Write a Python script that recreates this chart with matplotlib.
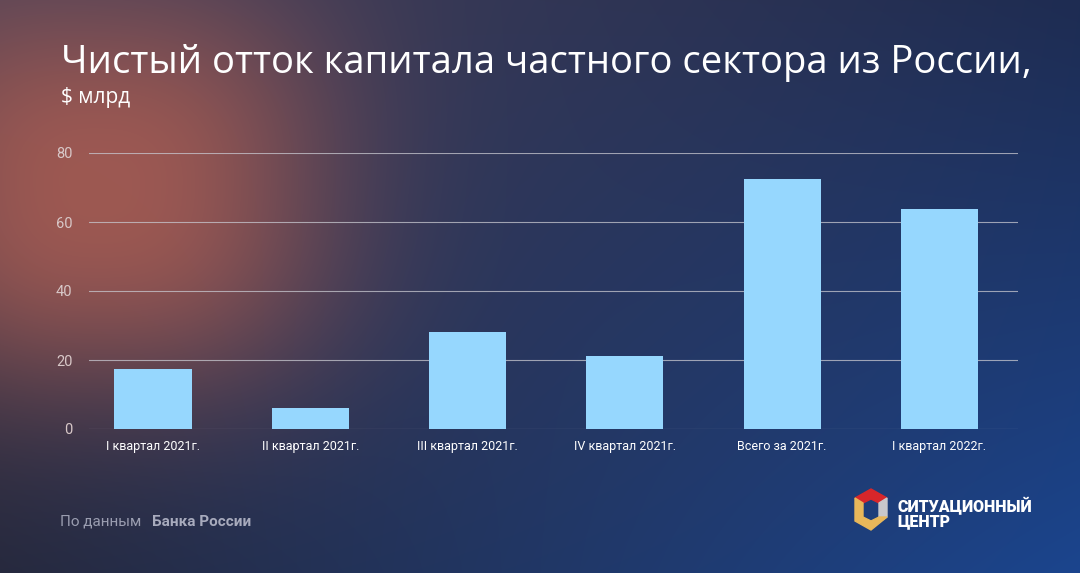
import numpy as np
import matplotlib
matplotlib.use("Agg")
import matplotlib.pyplot as plt
from matplotlib.patches import Polygon

categories = ["I квартал 2021г.", "II квартал 2021г.", "III квартал 2021г.",
              "IV квартал 2021г.", "Всего за 2021г.", "I квартал 2022г."]
values = [17.5, 6.2, 28.2, 21.2, 72.6, 63.9]
yticks = [0, 20, 40, 60, 80]

W, H = 1080, 573
fig = plt.figure(figsize=(W / 100, H / 100), dpi=100)

# background
bg = fig.add_axes([0, 0, 1, 1])
yy, xx = np.mgrid[0:H, 0:W].astype(float)
u = xx / W
v = yy / H
c_tl = np.array([0x45, 0x40, 0x58]) / 255
c_tr = np.array([0x1e, 0x2c, 0x52]) / 255
c_bl = np.array([0x26, 0x29, 0x3e]) / 255
c_br = np.array([0x1b, 0x45, 0x8e]) / 255
img = ((1 - u)[..., None] * (1 - v)[..., None] * c_tl + u[..., None] * (1 - v)[..., None] * c_tr
       + (1 - u)[..., None] * v[..., None] * c_bl + u[..., None] * v[..., None] * c_br)
glow = np.exp(-((np.abs(xx - 100) / 230) ** 2.5 + (np.abs(yy - 190) / 200) ** 2.5))
red = np.array([0xa8, 0x5c, 0x52]) / 255
img = img * (1 - glow[..., None] * 0.9) + red * glow[..., None] * 0.9
bg.imshow(np.clip(img, 0, 1), aspect="auto", extent=[0, W, H, 0])
bg.set_xlim(0, W)
bg.set_ylim(H, 0)
bg.axis("off")

# chart axes
left, right = 89, 1018
y0_px, y80_px = 429, 153
ax = fig.add_axes([left / W, 1 - y0_px / H, (right - left) / W, (y0_px - y80_px) / H])
ax.set_facecolor("none")
x = np.arange(len(categories))
ax.bar(x, values, width=0.49, color="#96d7fe", zorder=3)
ax.set_xlim(-0.407, 5.5)
ax.set_ylim(0, 80)
ax.set_yticks(yticks)
for t in yticks:
    ax.axhline(t, color="#c8c8d0", lw=0.8, alpha=0.75, zorder=1)
ax.set_xticks(x)
ax.set_xticklabels(categories, fontsize=9, color="white", family="Roboto")
ax.tick_params(axis="x", length=0, pad=8)
ax.tick_params(axis="y", length=0, pad=12, labelsize=10.5, labelcolor="#d8c8c8")
for lab in ax.get_yticklabels():
    lab.set_family("Roboto")
for s in ax.spines.values():
    s.set_visible(False)

# titles
fig.text(61 / W, 1 - 73 / H, "Чистый отток капитала частного сектора из России,",
         fontsize=27.5, color="white", family="Open Sans", ha="left", va="baseline")
fig.text(61 / W, 1 - 103 / H, "$ млрд", fontsize=15, color="white",
         family="Open Sans", ha="left", va="baseline")

# footer
fig.text(60 / W, 1 - 526 / H, "По данным", fontsize=11, color="#9a9db0",
         family="Roboto", ha="left", va="baseline")
fig.text(152 / W, 1 - 526 / H, "Банка России", fontsize=11, color="#a8abbd",
         family="Roboto", fontweight="bold", ha="left", va="baseline")

# logo
def P(pts, col):
    bg.add_patch(Polygon(pts, closed=True, color=col, zorder=5))
P([(855, 498), (871, 489), (887, 498), (879, 503), (871, 499), (863, 503)], "#d8262a")
P([(879, 503), (887, 498), (887, 517), (879, 522), (879, 512)], "#c8c8cc")
P([(855, 498), (863, 503), (863, 517), (871, 521), (879, 517), (887, 517), (871, 530), (855, 521)], "#e8b75a")
fig.text(897 / W, 1 - 511 / H, "СИТУАЦИОННЫЙ", fontsize=11.5, color="white",
         family="Roboto", fontweight="black", ha="left", va="baseline")
fig.text(897 / W, 1 - 526 / H, "ЦЕНТР", fontsize=11.5, color="white",
         family="Roboto", fontweight="black", ha="left", va="baseline")

fig.savefig("out.png", dpi=100)
